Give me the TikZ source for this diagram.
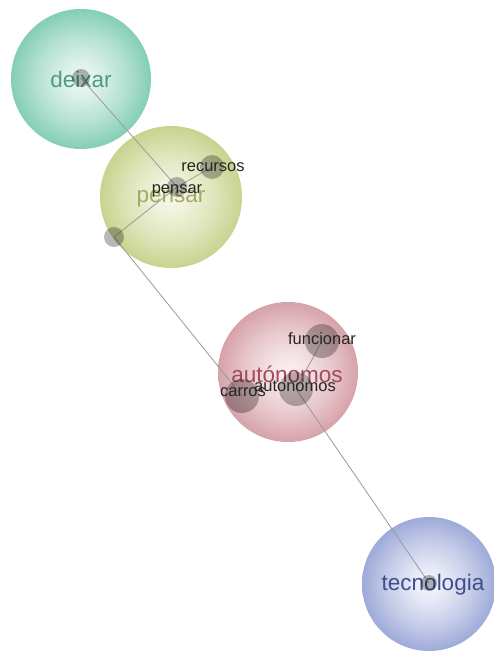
\documentclass[tikz,border=0pt]{standalone}
\usepackage{fontspec}
\setmainfont{Liberation Sans}
\definecolor{deixarEdge}{HTML}{84CEB4}
\definecolor{deixarCore}{HTML}{EEF8F4}
\definecolor{deixarText}{HTML}{4E9A82}
\definecolor{pensarEdge}{HTML}{C8D38F}
\definecolor{pensarCore}{HTML}{F7F8E9}
\definecolor{pensarText}{HTML}{A3AA62}
\definecolor{autoEdge}{HTML}{D6A2A9}
\definecolor{autoCore}{HTML}{FAF0F2}
\definecolor{autoText}{HTML}{A34A5A}
\definecolor{tecEdge}{HTML}{9EAAD8}
\definecolor{tecCore}{HTML}{F4F5FC}
\definecolor{tecText}{HTML}{3E4E8A}
\definecolor{linkGray}{HTML}{9A9A9A}
\colorlet{orbEdge}{gray}
\colorlet{orbCore}{white}
% soft sphere: pale core that fades out towards the rim
\pgfdeclareradialshading[orbEdge,orbCore]{orb}{\pgfpoint{0bp}{0bp}}{%
  color(0bp)=(orbCore); color(6bp)=(orbCore!85!orbEdge);
  color(16bp)=(orbCore!45!orbEdge); color(25bp)=(orbEdge); color(50bp)=(orbEdge)}
\tikzset{
  cluster/.style n args={2}{circle, inner sep=0pt, minimum size=#1,
    /utils/exec={\colorlet{orbEdge}{#2Edge}\colorlet{orbCore}{#2Core}}, shading=orb},
  bigword/.style={font=\fontsize{22.5}{24}\selectfont, text=#1},
  hub/.style={circle, inner sep=0pt, minimum size=#1, fill=black, fill opacity=0.28},
  word/.style={font=\fontsize{16.5}{18}\selectfont, text=black!85},
  link/.style={draw=linkGray, line width=0.8pt}
}
\begin{document}
\begin{tikzpicture}[x=1pt,y=-1pt]
\useasboundingbox[fill=white] (0,0) rectangle (493,655);

% community circles
\node[cluster={140pt}{deixar}] (cDeixar) at (81,79) {};
\node[cluster={142pt}{pensar}] (cPensar) at (171,197) {};
\node[cluster={140pt}{auto}] (cAuto) at (288,372) {};
\node[cluster={134pt}{tec}] (cTec) at (429,584) {};

% community titles
\node[bigword=deixarText] (tDeixar) at (81,79) {deixar};
\node[bigword=pensarText] (tPensar) at (171,199) {pensar};
\node[bigword=autoText] (tAuto) at (287,374) {autónomos};
\node[bigword=tecText] (tTec) at (433,585) {tecnologia};

% word positions
\coordinate (pDeixar) at (81,78);
\coordinate (pPensar) at (177,187);
\coordinate (pRecursos) at (212,167);
\coordinate (pFree) at (114,237);
\coordinate (pFuncionar) at (322,341);
\coordinate (pAutonomos) at (296,389);
\coordinate (pCarros) at (242,396);
\coordinate (pTec) at (429,583);

% links
\draw[link] (pDeixar) -- (pPensar);
\draw[link] (pFree) -- (pPensar) -- (pRecursos);
\draw[link] (pFree) -- (pCarros);
\draw[link] (pAutonomos) -- (pFuncionar);
\draw[link] (pAutonomos) -- (pTec);

% word dots
\node[hub=18pt] (dDeixar) at (pDeixar) {};
\node[hub=20pt] (dPensar) at (pPensar) {};
\node[hub=24pt] (dRecursos) at (pRecursos) {};
\node[hub=20pt] (dFree) at (pFree) {};
\node[hub=34pt] (dFuncionar) at (pFuncionar) {};
\node[hub=34pt] (dAutonomos) at (pAutonomos) {};
\node[hub=34pt] (dCarros) at (pCarros) {};
\node[hub=16pt] (dTec) at (pTec) {};

% word labels
\node[word] (lRecursos) at (213,167) {recursos};
\node[word] (lPensar) at (177,191) {pensar};
\node[word] (lFuncionar) at (322,339) {funcionar};
\node[word] (lAutonomos) at (295,386) {autonomos};
\node[word] (lCarros) at (243,392) {carros};
\end{tikzpicture}
\end{document}
